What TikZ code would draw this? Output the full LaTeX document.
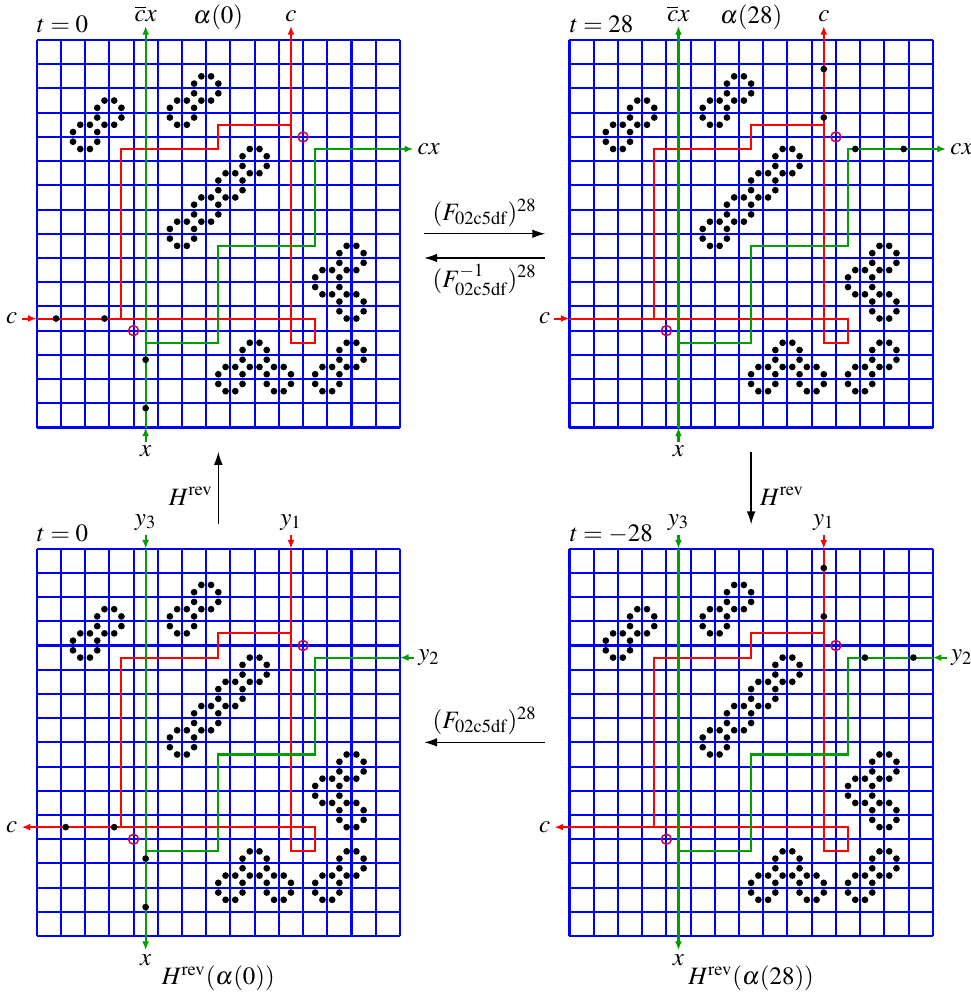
\documentclass[tikz,border=0pt]{standalone}
\usepackage{mathptmx}
\usetikzlibrary{arrows.meta}
\definecolor{gridblue}{rgb}{0,0,1}
\definecolor{wirered}{rgb}{1,0,0}
\definecolor{wiregreen}{rgb}{0,0.62,0}
\definecolor{gatecirc}{rgb}{0.8,0,0.3}
\tikzset{
  gridline/.style={draw=gridblue, line width=0.95pt},
  redwire/.style={draw=wirered, line width=0.95pt},
  greenwire/.style={draw=wiregreen, line width=0.95pt},
  redarrow/.style={redwire, fill=wirered, -{Latex[length=4pt,width=3.2pt]}},
  greenarrow/.style={greenwire, fill=wiregreen, -{Latex[length=4pt,width=3.2pt]}},
  bigarrow/.style={draw=black, line width=0.6pt, -{Latex[length=6pt,width=4pt]}},
  lbl/.style={inner sep=1.8pt, text=black},
  ttl/.style={inner sep=0pt, text=black},
  signal/.style={fill=black},
  gatemark/.style={draw=gatecirc, line width=0.7pt},
}
\newcommand\panelbody{%
  \path[gridline]
    \foreach \i in {0,...,15} {(\i,0) -- (\i,16)}
    \foreach \j in {0,...,16} {(0,\j) -- (15,\j)};
  \path[redwire] (0,11.5) -- (11.5,11.5) -- (11.5,12.5) -- (10.5,12.5) -- (10.5,0)
                 (3.5,11.5) -- (3.5,4.5) -- (7.5,4.5) -- (7.5,3.5) -- (10.5,3.5);
  \path[greenwire] (4.5,16) -- (4.5,0)
                   (4.5,12.5) -- (7.5,12.5) -- (7.5,8.5) -- (11.5,8.5) -- (11.5,4.5) -- (15,4.5);
  \path[gatemark] (11,4) circle[radius=2.3pt] (4,12) circle[radius=2.3pt];
  \path[fill=black]
    \foreach \cx/\cy in {3/3,2/4,7/2,6/3,9/5,8/6,7/7,6/8,13/9,12/10,13/11,9/13,8/14,10/14,13/13,12/14}
    {\foreach \dx/\dy in {-0.2/-0.5,0.2/-0.5,-0.5/-0.2,0.5/-0.2,-0.5/0.2,0.5/0.2,-0.2/0.5,0.2/0.5}
      {({\cx+\dx},{\cy+\dy}) circle[radius=1.55pt]}};
}
\begin{document}
\begin{tikzpicture}[x=11.16pt, y=-11.16pt, font=\fontsize{11.5}{14}\selectfont]
\useasboundingbox (-1.514,-1.652) rectangle (38.54,39.39);

% ---------- top left: alpha(0)
\begin{scope}
  \panelbody
  \path[signal] (0.8,11.5) circle[radius=1.55pt] (2.8,11.5) circle[radius=1.55pt]
                (4.5,13.2) circle[radius=1.55pt] (4.5,15.2) circle[radius=1.55pt];
  \node[ttl, anchor=base west] (tlt) at (0,-0.3) {$t=0$};
  \node[ttl, anchor=base] (tla) at (7.5,-0.69) {$\alpha(0)$};
  \node[lbl, anchor=east] (tlcin) at (-0.62,11.5) {$c$};
  \coordinate (tlcinE) at (0,11.5);
  \draw[redarrow] (tlcin.east) -- (tlcinE);
  \node[lbl, anchor=north] (tlxin) at (4.5,16.58) {$x$};
  \coordinate (tlxinE) at (4.5,16);
  \draw[greenarrow] (tlxin.north) -- (tlxinE);
  \node[lbl, anchor=south] (tlcout) at (10.5,-0.58) {$c$};
  \coordinate (tlcoutS) at (10.5,0);
  \draw[redarrow] (tlcoutS) -- (tlcout.south);
  \node[lbl, anchor=south] (tlcbx) at (4.5,-0.58) {$\overline{c}x$};
  \coordinate (tlcbxS) at (4.5,0);
  \draw[greenarrow] (tlcbxS) -- (tlcbx.south);
  \node[lbl, anchor=west] (tlcx) at (15.55,4.5) {$cx$};
  \coordinate (tlcxS) at (15,4.5);
  \draw[greenarrow] (tlcxS) -- (tlcx.west);
\end{scope}

% ---------- top right: alpha(28)
\begin{scope}[shift={(22,0)}]
  \panelbody
  \path[signal] (10.5,1.2) circle[radius=1.55pt] (10.5,3.2) circle[radius=1.55pt]
                (11.8,4.5) circle[radius=1.55pt] (13.8,4.5) circle[radius=1.55pt];
  \node[ttl, anchor=base west] (trt) at (0,-0.3) {$t=28$};
  \node[ttl, anchor=base] (tra) at (7.5,-0.69) {$\alpha(28)$};
  \node[lbl, anchor=east] (trcin) at (-0.62,11.5) {$c$};
  \coordinate (trcinE) at (0,11.5);
  \draw[redarrow] (trcin.east) -- (trcinE);
  \node[lbl, anchor=north] (trxin) at (4.5,16.58) {$x$};
  \coordinate (trxinE) at (4.5,16);
  \draw[greenarrow] (trxin.north) -- (trxinE);
  \node[lbl, anchor=south] (trcout) at (10.5,-0.58) {$c$};
  \coordinate (trcoutS) at (10.5,0);
  \draw[redarrow] (trcoutS) -- (trcout.south);
  \node[lbl, anchor=south] (trcbx) at (4.5,-0.58) {$\overline{c}x$};
  \coordinate (trcbxS) at (4.5,0);
  \draw[greenarrow] (trcbxS) -- (trcbx.south);
  \node[lbl, anchor=west] (trcx) at (15.55,4.5) {$cx$};
  \coordinate (trcxS) at (15,4.5);
  \draw[greenarrow] (trcxS) -- (trcx.west);
\end{scope}

% ---------- bottom left: H^rev(alpha(0))
\begin{scope}[shift={(0,21)}]
  \panelbody
  \path[signal] (1.2,11.5) circle[radius=1.55pt] (3.2,11.5) circle[radius=1.55pt]
                (4.5,12.8) circle[radius=1.55pt] (4.5,14.8) circle[radius=1.55pt];
  \node[ttl, anchor=base west] (blt) at (0,-0.28) {$t=0$};
  \node[ttl, anchor=base] (blcap) at (7.5,18.0) {$H^{\mathrm{rev}}(\alpha(0))$};
  \node[lbl, anchor=east] (blcout) at (-0.62,11.5) {$c$};
  \coordinate (blcoutS) at (0,11.5);
  \draw[redarrow] (blcoutS) -- (blcout.east);
  \node[lbl, anchor=north] (blxout) at (4.5,16.58) {$x$};
  \coordinate (blxoutS) at (4.5,16);
  \draw[greenarrow] (blxoutS) -- (blxout.north);
  \node[lbl, anchor=south] (bly1) at (10.5,-0.58) {$y_1$};
  \coordinate (bly1E) at (10.5,0);
  \draw[redarrow] (bly1.south) -- (bly1E);
  \node[lbl, anchor=south] (bly3) at (4.5,-0.58) {$y_3$};
  \coordinate (bly3E) at (4.5,0);
  \draw[greenarrow] (bly3.south) -- (bly3E);
  \node[lbl, anchor=west] (bly2) at (15.58,4.5) {$y_2$};
  \coordinate (bly2E) at (15,4.5);
  \draw[greenarrow] (bly2.west) -- (bly2E);
\end{scope}

% ---------- bottom right: H^rev(alpha(28))
\begin{scope}[shift={(22,21)}]
  \panelbody
  \path[signal] (10.5,0.8) circle[radius=1.55pt] (10.5,2.8) circle[radius=1.55pt]
                (12.2,4.5) circle[radius=1.55pt] (14.2,4.5) circle[radius=1.55pt];
  \node[ttl, anchor=base west] (brt) at (0,-0.28) {$t=-28$};
  \node[ttl, anchor=base] (brcap) at (7.5,18.0) {$H^{\mathrm{rev}}(\alpha(28))$};
  \node[lbl, anchor=east] (brcout) at (-0.62,11.5) {$c$};
  \coordinate (brcoutS) at (0,11.5);
  \draw[redarrow] (brcoutS) -- (brcout.east);
  \node[lbl, anchor=north] (brxout) at (4.5,16.58) {$x$};
  \coordinate (brxoutS) at (4.5,16);
  \draw[greenarrow] (brxoutS) -- (brxout.north);
  \node[lbl, anchor=south] (bry1) at (10.5,-0.58) {$y_1$};
  \coordinate (bry1E) at (10.5,0);
  \draw[redarrow] (bry1.south) -- (bry1E);
  \node[lbl, anchor=south] (bry3) at (4.5,-0.58) {$y_3$};
  \coordinate (bry3E) at (4.5,0);
  \draw[greenarrow] (bry3.south) -- (bry3E);
  \node[lbl, anchor=west] (bry2) at (15.58,4.5) {$y_2$};
  \coordinate (bry2E) at (15,4.5);
  \draw[greenarrow] (bry2.west) -- (bry2E);
\end{scope}

% ---------- transitions
\node[ttl, anchor=base] (fwd) at (18.5,7.46) {$(F_{\mathrm{02c5df}})^{28}$};
\coordinate (fwdA) at (16,8);
\coordinate (fwdB) at (21,8);
\draw[bigarrow] (fwdA) -- (fwdB);
\coordinate (bwdA) at (21,9);
\coordinate (bwdB) at (16,9);
\draw[bigarrow] (bwdA) -- (bwdB);
\node[ttl, anchor=base] (bwd) at (18.5,10.2) {$(F^{-1}_{\mathrm{02c5df}})^{28}$};

\node[ttl, anchor=base] (fwdlow) at (18.5,28.42) {$(F_{\mathrm{02c5df}})^{28}$};
\coordinate (lowA) at (21,29);
\coordinate (lowB) at (16,29);
\draw[bigarrow] (lowA) -- (lowB);

\coordinate (hlA) at (7.5,20);
\coordinate (hlB) at (7.5,17);
\draw[bigarrow] (hlA) -- (hlB);
\node[ttl, anchor=base east] (hl) at (7.29,19.2) {$H^{\mathrm{rev}}$};
\coordinate (hrA) at (29.5,17);
\coordinate (hrB) at (29.5,20);
\draw[bigarrow] (hrA) -- (hrB);
\node[ttl, anchor=base west] (hr) at (29.85,19.2) {$H^{\mathrm{rev}}$};
\end{tikzpicture}
\end{document}
